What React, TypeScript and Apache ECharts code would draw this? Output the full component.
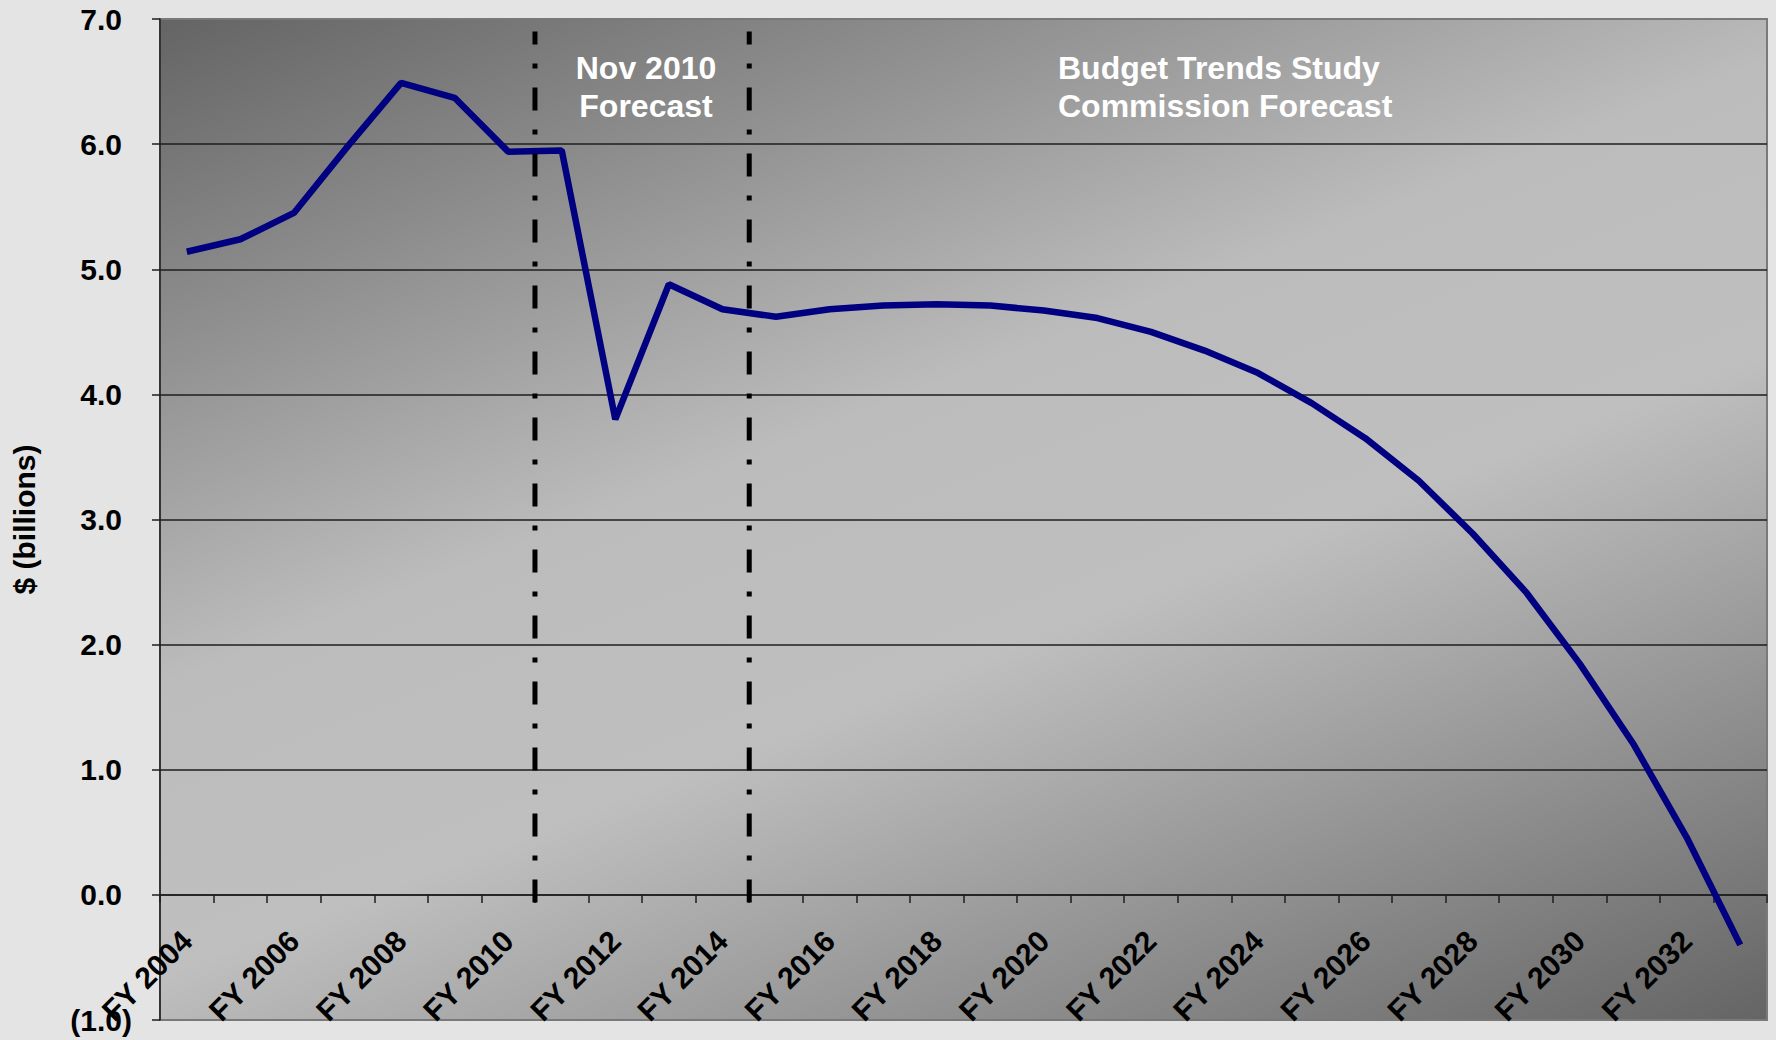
import React, { useEffect, useRef } from 'react';
import * as echarts from 'echarts';

const categories = [
  'FY 2004', 'FY 2005', 'FY 2006', 'FY 2007', 'FY 2008', 'FY 2009', 'FY 2010', 'FY 2011',
  'FY 2012', 'FY 2013', 'FY 2014', 'FY 2015', 'FY 2016', 'FY 2017', 'FY 2018', 'FY 2019',
  'FY 2020', 'FY 2021', 'FY 2022', 'FY 2023', 'FY 2024', 'FY 2025', 'FY 2026', 'FY 2027',
  'FY 2028', 'FY 2029', 'FY 2030', 'FY 2031', 'FY 2032', 'FY 2033',
];

const balance = [
  5.14, 5.24, 5.45, 5.98, 6.49, 6.37, 5.94, 5.95,
  3.80, 4.88, 4.68, 4.62, 4.68, 4.71, 4.72, 4.71,
  4.67, 4.61, 4.50, 4.35, 4.17, 3.93, 3.65, 3.31,
  2.89, 2.42, 1.85, 1.21, 0.46, -0.40,
];

const yMin = -1;
const yMax = 7;
const yInterval = 1;

// category boundaries (count of categories to the left) where the forecast dividers sit
const dividerBoundaries = [7, 11];
const dividerSpan = [-0.06, 6.9];

const annotationTexts = ['Nov 2010\nForecast', 'Budget Trends Study\nCommission Forecast'];

const FONT = '"Liberation Sans", Arial, Helvetica, sans-serif';

const W = 1776;
const H = 1040;
const GRID = { left: 160, right: 9, top: 19, bottom: 20 };

export default function App() {
  const ref = useRef<HTMLDivElement>(null);

  useEffect(() => {
    if (!ref.current) return;
    const chart = echarts.init(ref.current, undefined, { renderer: 'svg' });

    const plotHeight = H - GRID.top - GRID.bottom;
    const zeroOffset = -(plotHeight / (yMax - yMin)) * (0 - yMin);

    const dividerSeries = dividerBoundaries.map((b) => ({
      type: 'line',
      xAxisIndex: 1,
      yAxisIndex: 0,
      data: [[b, dividerSpan[0]], [b, dividerSpan[1]]],
      symbol: 'none',
      silent: true,
      z: 5,
      lineStyle: { color: '#000', width: 5, type: [23, 19, 5, 19] },
    }));

    const gridLineColors = ['#7a7a7a', '#1e1e1e', '#1e1e1e', '#1e1e1e', '#1e1e1e', '#1e1e1e', '#1e1e1e', '#1e1e1e', '#7a7a7a'];

    const labelFont = { color: '#000', fontSize: 30, fontWeight: 'bold', fontFamily: FONT };

    chart.setOption({
      animation: false,
      backgroundColor: '#e4e4e4',
      grid: {
        show: true,
        ...GRID,
        containLabel: false,
        outerBoundsMode: 'none',
        borderColor: '#7a7a7a',
        borderWidth: 2,
        backgroundColor: new echarts.graphic.LinearGradient(0.094, -0.151, 0.906, 1.151, [
          { offset: 0, color: '#585858' },
          { offset: 0.42, color: '#bcbcbc' },
          { offset: 0.58, color: '#bfbfbf' },
          { offset: 1, color: '#585858' },
        ]),
      },
      xAxis: [
        {
          type: 'category',
          data: categories,
          boundaryGap: true,
          position: 'bottom',
          offset: zeroOffset,
          axisLine: { onZero: false, lineStyle: { color: '#1e1e1e', width: 1.5 } },
          axisTick: { show: true, interval: 0, length: 8, lineStyle: { color: '#1e1e1e', width: 1.5 } },
          axisLabel: {
            interval: 1,
            rotate: 45,
            margin: 41,
            ...labelFont,
          },
          splitLine: { show: false },
        },
        {
          type: 'value',
          min: 0,
          max: categories.length,
          show: false,
        },
      ],
      yAxis: {
        type: 'value',
        min: yMin,
        max: yMax,
        interval: yInterval,
        name: '$ (billions)',
        nameLocation: 'middle',
        nameGap: 121,
        nameTextStyle: { ...labelFont },
        axisLine: { show: true, onZero: false, lineStyle: { color: '#1e1e1e', width: 1.5 } },
        axisTick: { show: true, length: 8, lineStyle: { color: '#1e1e1e', width: 1.5 } },
        axisLabel: {
          margin: 28,
          ...labelFont,
          formatter: (v: number) =>
            v < 0 ? '{n|(' + Math.abs(v).toFixed(1) + ')}' : '{p|' + v.toFixed(1) + '}',
          rich: {
            n: { ...labelFont },
            p: { ...labelFont, padding: [0, 10, 0, 0] },
          },
        },
        splitLine: { show: true, lineStyle: { color: gridLineColors, width: 1.5 } },
      },
      graphic: [
        {
          type: 'text',
          x: 646,
          y: 49,
          z: 10,
          style: {
            text: annotationTexts[0],
            fill: '#fff',
            fontSize: 32,
            fontWeight: 'bold',
            fontFamily: FONT,
            align: 'center',
            verticalAlign: 'top',
            lineHeight: 38,
          },
        },
        {
          type: 'text',
          x: 1058,
          y: 49,
          z: 10,
          style: {
            text: annotationTexts[1],
            fill: '#fff',
            fontSize: 32,
            fontWeight: 'bold',
            fontFamily: FONT,
            align: 'left',
            verticalAlign: 'top',
            lineHeight: 38,
          },
        },
      ],
      series: [
        {
          type: 'line',
          data: balance,
          symbol: 'none',
          z: 3,
          lineStyle: { color: '#000080', width: 6.5 },
        },
        ...dividerSeries,
      ],
    });

    return () => chart.dispose();
  }, []);

  return (
    <div
      ref={ref}
      style={{ position: 'fixed', left: 0, top: 0, width: W, height: H }}
    />
  );
}
